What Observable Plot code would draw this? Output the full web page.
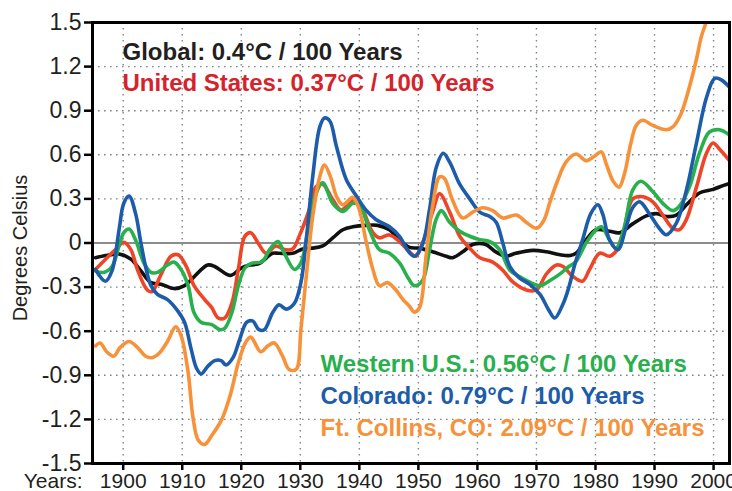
<!DOCTYPE html>
<html>
<head>
<meta charset="utf-8">
<script src="https://cdn.jsdelivr.net/npm/d3@7"></script>
<script src="https://cdn.jsdelivr.net/npm/@observablehq/plot@0.6"></script>
<style>
  html, body { margin: 0; padding: 0; background: white; }
</style>
</head>
<body>
<div id="chart"></div>
<script>
// ---- Data ----
const xTicks = [1900, 1910, 1920, 1930, 1940, 1950, 1960, 1970, 1980, 1990, 2000];
const yTicks = [-1.5, -1.2, -0.9, -0.6, -0.3, 0, 0.3, 0.6, 0.9, 1.2, 1.5];

const globalYears = [1895.3,1897.8,1899.3,1901.3,1903,1904.7,1906.4,1908.6,1910.4,1912,1914.3,1915.5,1917.4,1918.3,1920,1921.4,1923,1925.3,1926.4,1928.7,1930.4,1932,1933.8,1935.5,1937.2,1938.9,1941.1,1943.1,1945.1,1946.8,1948.5,1950.2,1952.4,1954.7,1955.8,1957.5,1959.2,1961.4,1963.1,1964.8,1966.5,1969.4,1971.7,1974,1975.7,1976.7,1978.4,1980.1,1982.4,1984.1,1986.3,1988.6,1990.3,1992,1993.7,1995.4,1997.6,1999.9,2001.6,2002.7];
const globalVals = [-0.10,-0.08,-0.075,-0.11,-0.19,-0.27,-0.28,-0.31,-0.29,-0.23,-0.15,-0.16,-0.21,-0.22,-0.17,-0.15,-0.14,-0.07,-0.07,-0.07,-0.04,-0.035,-0.02,0.035,0.09,0.11,0.12,0.12,0.09,0.02,-0.03,-0.035,-0.06,-0.09,-0.10,-0.06,-0.01,-0.01,-0.06,-0.09,-0.07,-0.05,-0.06,-0.08,-0.085,-0.07,0.02,0.09,0.08,0.07,0.13,0.185,0.20,0.18,0.19,0.26,0.34,0.365,0.39,0.405];

const usYears = [1895.3,1897,1898.7,1900.1,1901.3,1902.4,1904.1,1904.9,1906.4,1908.1,1909.3,1910.7,1912,1913.8,1915,1916.1,1917.2,1918.4,1919.5,1920.6,1921.6,1923,1924.2,1925.9,1927.3,1928.7,1929.8,1931.5,1932.7,1933.8,1935.5,1936.9,1938.3,1939.4,1940.6,1942.3,1943.4,1945.1,1946.8,1948.5,1949.6,1950.7,1952.4,1953.6,1955.3,1957,1958.7,1960.4,1962.6,1964.3,1966,1968.3,1970,1971.7,1973.4,1974.5,1976.1,1977.8,1979,1980.7,1982.4,1983.5,1984.7,1986.3,1988,1989.7,1991.4,1993.1,1994.2,1995.4,1997.1,1998.8,1999.9,2001,2002.7];
const usVals = [-0.18,-0.11,-0.045,0.005,-0.045,-0.18,-0.32,-0.33,-0.215,-0.09,-0.08,-0.16,-0.29,-0.385,-0.44,-0.51,-0.51,-0.41,-0.18,0.045,0.07,-0.01,-0.07,-0.02,-0.045,-0.04,0.045,0.225,0.385,0.40,0.295,0.225,0.27,0.305,0.225,0.07,0.035,0.055,0.01,-0.06,-0.09,0.0,0.21,0.335,0.21,0.046,-0.035,-0.10,-0.13,-0.185,-0.265,-0.32,-0.32,-0.21,-0.15,-0.16,-0.225,-0.26,-0.18,-0.07,-0.09,-0.055,0.07,0.30,0.315,0.28,0.19,0.10,0.09,0.16,0.38,0.61,0.68,0.64,0.56];

const westYears = [1895.3,1896.7,1898.1,1899.3,1900.1,1901,1902.1,1903.5,1904.7,1905.8,1907.5,1908.6,1909.8,1911,1912,1913.2,1915,1916.4,1917.2,1918.4,1919.5,1920.6,1921.6,1923.6,1924.8,1926.2,1927.3,1929,1930.1,1931.5,1932.7,1933.8,1935.5,1937.2,1938.9,1940,1941.7,1943.4,1945.1,1946.8,1948.3,1949.3,1950.7,1951.9,1953,1953.9,1955.3,1957,1958.7,1960.4,1962.1,1963.8,1965.5,1967.2,1968.8,1970.6,1972.3,1974,1975.5,1976.7,1978.4,1980.1,1981,1982.4,1983.5,1984.9,1986.3,1987.7,1989.7,1991.4,1993.1,1994.2,1995.9,1997.6,1999.3,2001,2002.7];
const westVals = [-0.19,-0.20,-0.16,-0.02,0.07,0.095,0.02,-0.135,-0.20,-0.20,-0.15,-0.13,-0.18,-0.29,-0.475,-0.54,-0.555,-0.59,-0.58,-0.475,-0.29,-0.17,-0.14,-0.125,-0.045,0.01,-0.07,-0.18,-0.135,0.135,0.34,0.41,0.27,0.215,0.27,0.26,0.09,-0.045,-0.07,-0.135,-0.24,-0.29,-0.255,-0.045,0.16,0.22,0.14,0.08,0.046,0.023,0.01,-0.046,-0.185,-0.23,-0.265,-0.29,-0.255,-0.21,-0.16,-0.125,0.0,0.09,0.11,0.02,-0.035,0.11,0.36,0.42,0.35,0.27,0.22,0.25,0.38,0.61,0.755,0.77,0.735];

const coYears = [1895.3,1897,1898.1,1899.3,1900.1,1901,1902.1,1903,1903.9,1904.7,1905.8,1907.5,1909.2,1910.4,1911.5,1912.4,1913.2,1914.3,1915.5,1916.6,1917.4,1918.6,1919.7,1920.9,1921.9,1923,1923.9,1925.3,1926.4,1927.6,1929,1930.1,1931,1932.1,1933.3,1934.1,1935,1936.1,1937.8,1939.5,1941.1,1942.8,1945.1,1946.8,1948.2,1949.3,1950.7,1951.9,1953,1954.2,1955.3,1957,1958.7,1960.4,1962.1,1963.2,1964.3,1965.5,1967.2,1968.8,1970.6,1972,1973.1,1974.5,1975.5,1976.4,1977.8,1979.2,1980.4,1981.2,1982.4,1983.8,1985.2,1986.3,1987.5,1989.1,1990.8,1992,1993.7,1995.4,1997.1,1998.8,2000.2,2001.3,2002.7];
const coVals = [-0.18,-0.26,-0.19,0.09,0.27,0.32,0.20,0.0,-0.18,-0.29,-0.35,-0.385,-0.46,-0.54,-0.72,-0.85,-0.89,-0.84,-0.80,-0.80,-0.83,-0.78,-0.66,-0.54,-0.53,-0.59,-0.59,-0.475,-0.42,-0.45,-0.41,-0.27,0.02,0.45,0.79,0.85,0.83,0.66,0.43,0.32,0.225,0.16,0.11,0.045,-0.05,-0.09,-0.01,0.23,0.51,0.61,0.55,0.40,0.30,0.21,0.18,0.14,0.0,-0.16,-0.24,-0.28,-0.35,-0.45,-0.51,-0.415,-0.30,-0.16,0.02,0.20,0.26,0.20,0.02,-0.045,0.11,0.24,0.28,0.20,0.10,0.056,0.135,0.36,0.68,0.99,1.12,1.11,1.06];

const fcYears = [1895.3,1896.1,1897.2,1898.4,1899.5,1901,1902.4,1903.8,1904.9,1906.1,1907.5,1908.9,1909.8,1911,1911.8,1912.7,1913.8,1915,1916.7,1918.1,1919.5,1920.7,1921.6,1923.3,1924.5,1925.6,1927,1928.1,1929.3,1930.1,1931,1932.1,1933.3,1934.1,1935.2,1936.1,1937.2,1938.9,1940,1941.1,1942.3,1943.4,1944.8,1946.2,1947.4,1948.5,1949.3,1950.2,1951.3,1952.4,1953.6,1954.4,1955.8,1957.5,1959.2,1960.9,1962.6,1964.3,1966.6,1968.3,1970,1971.2,1972.3,1973.5,1975,1976.7,1978.4,1979.8,1981,1981.8,1983,1984,1984.9,1986,1986.9,1988,1989.7,1992,1993.1,1994.5,1995.9,1997.1,1997.9,1998.8,1999.5];
const fcVals = [-0.70,-0.68,-0.74,-0.77,-0.71,-0.67,-0.71,-0.77,-0.78,-0.75,-0.67,-0.57,-0.63,-0.88,-1.18,-1.34,-1.37,-1.31,-1.20,-1.04,-0.815,-0.68,-0.64,-0.74,-0.70,-0.68,-0.77,-0.86,-0.86,-0.59,-0.23,0.18,0.45,0.53,0.44,0.32,0.26,0.31,0.225,0.02,-0.18,-0.29,-0.27,-0.32,-0.385,-0.43,-0.47,-0.44,-0.09,0.25,0.45,0.44,0.29,0.17,0.21,0.24,0.22,0.17,0.19,0.14,0.10,0.15,0.28,0.415,0.55,0.605,0.56,0.59,0.62,0.54,0.42,0.38,0.47,0.68,0.80,0.835,0.80,0.77,0.79,0.88,1.06,1.25,1.40,1.51,1.62];

const seriesNames = ["Global", "United States", "Western U.S.", "Colorado", "Ft. Collins, CO"];
const trendTexts = ["0.4°C / 100 Years", "0.37°C / 100 Years", "0.56°C / 100 Years", "0.79°C / 100 Years", "2.09°C / 100 Years"];
const lineColors = ["#111111", "#ef4526", "#27b04b", "#1c5cab", "#f7923a"];
const textColors = ["#231f20", "#d5232c", "#27b04b", "#1c5cab", "#f7923a"];

// ---- Build tables ----
const rows = (ys, vs) => ys.map((x, i) => ({x, y: vs[i]}));
const series = [
  rows(globalYears, globalVals),
  rows(usYears, usVals),
  rows(westYears, westVals),
  rows(coYears, coVals),
  rows(fcYears, fcVals)
];
const drawOrder = [0, 1, 2, 3, 4];

const labelOffsets = [[30, 29.5], [30, 61], [228, 342], [228, 374], [228, 406]];

const font = "'Liberation Sans', Arial, Helvetica, sans-serif";

const marks = [
  // grid
  Plot.ruleX(xTicks, {stroke: "#7d868c", strokeWidth: 1.4, strokeDasharray: "1.6,4.4"}),
  Plot.ruleY(yTicks.filter(d => d !== 0 && Math.abs(d) < 1.5), {stroke: "#7d868c", strokeWidth: 1.4, strokeDasharray: "1.6,4.4"}),
  Plot.ruleY([0], {stroke: "#8c8c8c", strokeWidth: 2})
];
for (const i of drawOrder) {
  marks.push(Plot.line(series[i], {x: "x", y: "y", stroke: lineColors[i], strokeWidth: 3.6, curve: "catmull-rom", clip: true}));
}
marks.push(
  Plot.frame({stroke: "black", strokeWidth: 3}),
  Plot.axisY(yTicks, {tickSize: 8, tickPadding: 3, fontSize: 23, strokeWidth: 2.5, stroke: "black", fill: "#231f20",
    tickFormat: d => d === 0 ? "0" : d.toFixed(1), label: null}),
  Plot.axisX(xTicks, {tickSize: 7, tickPadding: 3, fontSize: 21, strokeWidth: 2.5, stroke: "black", fill: "#231f20",
    tickFormat: d => String(d), label: null}),
  Plot.text(["Years:"], {frameAnchor: "bottom-left", textAnchor: "end", lineAnchor: "middle", dx: -10, dy: 17.5, fontSize: 21, fill: "#231f20"}),
  Plot.text(["Degrees Celsius"], {frameAnchor: "left", textAnchor: "middle", lineAnchor: "middle", rotate: -90, dx: -72, dy: 5, fontSize: 20, fill: "#231f20"})
);
seriesNames.forEach((name, i) => {
  marks.push(Plot.text([`${name}: ${trendTexts[i]}`], {
    frameAnchor: "top-left", textAnchor: "start", lineAnchor: "middle", dx: labelOffsets[i][0], dy: labelOffsets[i][1],
    fontSize: 24, fontWeight: "bold", fill: textColors[i]
  }));
});

const chart = Plot.plot({
  width: 732,
  height: 491,
  marginLeft: 92,
  marginRight: 3,
  marginTop: 22,
  marginBottom: 28,
  style: {fontFamily: font, background: "white", overflow: "visible"},
  x: {domain: [1894.8, 2002.7]},
  y: {domain: [-1.5, 1.5]},
  marks
});
document.getElementById("chart").appendChild(chart);
</script>
</body>
</html>
